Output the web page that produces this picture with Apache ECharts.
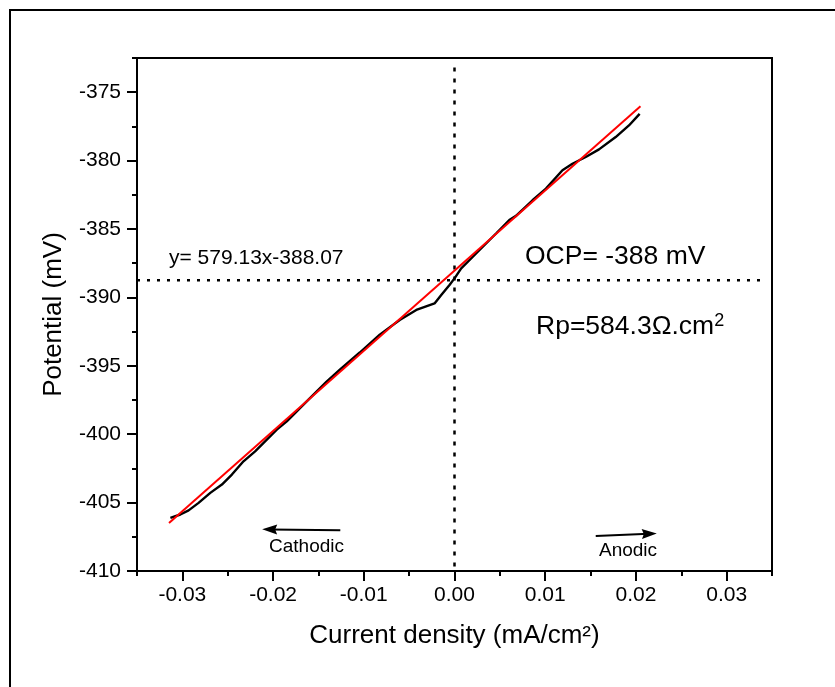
<!DOCTYPE html>
<html>
<head>
<meta charset="utf-8">
<script src="https://cdn.jsdelivr.net/npm/echarts@6/dist/echarts.min.js"></script>
<style>html,body{margin:0;padding:0;background:#fff;}#c{width:835px;height:687px;}</style>
</head>
<body>
<div id="c"></div>
<script>
// Measured polarization curve (current density mA/cm², potential mV)
var currentDensity = [-0.03132,-0.03022,-0.02931,-0.02821,-0.02692,-0.02564,-0.02454,-0.02326,-0.02198,-0.02088,-0.01959,-0.01849,-0.01739,-0.01593,-0.01410,-0.01264,-0.01044,-0.00824,-0.00604,-0.00421,-0.00220,-0.00146,-0.00055,0.0,0.00074,0.00238,0.00458,0.00604,0.00678,0.00860,0.01008,0.01190,0.01300,0.01447,0.01593,0.01777,0.01923,0.02041];
var potential = [-406.11,-405.87,-405.57,-405.02,-404.29,-403.68,-402.95,-401.98,-401.25,-400.52,-399.67,-399.06,-398.33,-397.36,-396.15,-395.29,-394.03,-392.72,-391.65,-390.92,-390.44,-389.82,-389.09,-388.61,-387.88,-386.79,-385.33,-384.35,-384.04,-382.90,-382.05,-380.71,-380.23,-379.74,-379.18,-378.28,-377.43,-376.58];
// Linear fit line end points
var fitX = [-0.03147, 0.0205];
var fitY = [-406.49, -376.03];
// Reference lines
var ocpLineY = -388.75;
var ocpLineX = [-0.035, 0.0343];
var zeroLineX = 0;
var zeroLineY = [-373.2, -410];
// Direction arrows [x0,y0,x1,y1] (end = centre of arrow head)
var cathodicArrow = [-0.01259, -407.02, -0.02032, -406.96];
var anodicArrow = [0.01557, -407.44, 0.02142, -407.28];
// Axis ticks
var xMajor = [-0.03,-0.02,-0.01,0,0.01,0.02,0.03];
var xMinor = [-0.035,-0.025,-0.015,-0.005,0.005,0.015,0.025,0.035];
var yMajor = [-410,-405,-400,-395,-390,-385,-380,-375];
var yMinor = [-407.5,-402.5,-397.5,-392.5,-387.5,-382.5,-377.5,-372.5];

var FONT = "'Liberation Sans', Arial, sans-serif";
var curve = currentDensity.map(function(x,i){return [x, potential[i]];});
var fit = fitX.map(function(x,i){return [x, fitY[i]];});

var chart = echarts.init(document.getElementById('c'), null, {renderer:'canvas'});
var axisLine = {show:true, onZero:false, lineStyle:{color:'#000', width:2}};
chart.setOption({
  animation:false,
  backgroundColor:'#fff',
  grid:{left:137, top:58, width:635, height:513, show:true, borderColor:'#000', borderWidth:2, backgroundColor:'transparent'},
  xAxis:[{
    type:'value', min:-0.035, max:0.035, position:'bottom',
    axisLine:axisLine,
    axisTick:{show:true, inside:false, length:10, lineStyle:{color:'#000', width:2}, customValues:xMajor},
    axisLabel:{show:true, customValues:xMajor, color:'#000', fontSize:21, fontFamily:FONT, margin:14,
      formatter:function(v){return v.toFixed(2);}},
    splitLine:{show:false},
    name:'Current density (mA/cm²)', nameLocation:'middle', nameGap:52,
    nameTextStyle:{color:'#000', fontSize:26, fontFamily:FONT}
  },{
    type:'value', min:-0.035, max:0.035, position:'bottom', gridIndex:0,
    axisLine:{show:false, onZero:false},
    axisTick:{show:true, inside:false, length:5, lineStyle:{color:'#000', width:2}, customValues:xMinor},
    axisLabel:{show:false}, splitLine:{show:false}
  }],
  yAxis:[{
    type:'value', min:-410, max:-372.5, position:'left',
    axisLine:axisLine,
    axisTick:{show:true, inside:false, length:10, lineStyle:{color:'#000', width:2}, customValues:yMajor},
    axisLabel:{show:true, customValues:yMajor, color:'#000', fontSize:21, fontFamily:FONT, margin:16,
      formatter:function(v){return String(Math.round(v));}},
    splitLine:{show:false},
    name:'Potential (mV)', nameLocation:'middle', nameGap:70,
    nameTextStyle:{color:'#000', fontSize:26, fontFamily:FONT}
  },{
    type:'value', min:-410, max:-372.5, position:'left', gridIndex:0,
    axisLine:{show:false, onZero:false},
    axisTick:{show:true, inside:false, length:5, lineStyle:{color:'#000', width:2}, customValues:yMinor},
    axisLabel:{show:false}, splitLine:{show:false}
  }],
  series:[
    {type:'line', data:[[zeroLineX, zeroLineY[0]],[zeroLineX, zeroLineY[1]]], showSymbol:false, silent:true,
      lineStyle:{color:'#000', width:2.5, type:[4,7]}},
    {type:'line', data:[[ocpLineX[0], ocpLineY],[ocpLineX[1], ocpLineY]], showSymbol:false, silent:true,
      lineStyle:{color:'#000', width:2.5, type:[3,7]}},
    {type:'line', data:curve, showSymbol:false, smooth:false,
      lineStyle:{color:'#000', width:2.4}},
    {type:'line', data:fit, showSymbol:false,
      lineStyle:{color:'#ff0000', width:2}},
    {type:'line', data:[], showSymbol:false,
      markLine:{silent:true,
        symbol:['none','path://M8,0 L13,15 L8,13 L3,15 Z M0,16 L0,16 M16,0 L16,0'],
        symbolSize:16, label:{show:false},
        lineStyle:{color:'#000', width:2, type:'solid'},
        data:[
          [{coord:[cathodicArrow[0], cathodicArrow[1]]},{coord:[cathodicArrow[2], cathodicArrow[3]]}],
          [{coord:[anodicArrow[0], anodicArrow[1]]},{coord:[anodicArrow[2], anodicArrow[3]]}]
        ]}}
  ],
  graphic:[
    {type:'rect', shape:{x:10, y:10, width:900, height:800}, style:{fill:'none', stroke:'#000', lineWidth:2}, silent:true},
    {type:'text', left:169, top:248, style:{text:'y= 579.13x-388.07', fill:'#000', font:'21px '+FONT}},
    {type:'text', left:525, top:243, style:{text:'OCP= -388 mV', fill:'#000', font:'26.5px '+FONT}},
    {type:'text', left:536, top:312, style:{
      text:'{a|Rp=584.3Ω.cm}{s|2}',
      rich:{a:{fontSize:26.5, fontFamily:FONT, fill:'#000', lineHeight:30},
            s:{fontSize:18, fontFamily:FONT, fill:'#000', verticalAlign:'top', lineHeight:30}}}},
    {type:'text', left:269, top:537, style:{text:'Cathodic', fill:'#000', font:'19px '+FONT}},
    {type:'text', left:599, top:541, style:{text:'Anodic', fill:'#000', font:'19px '+FONT}}
  ]
});
</script>
</body>
</html>
